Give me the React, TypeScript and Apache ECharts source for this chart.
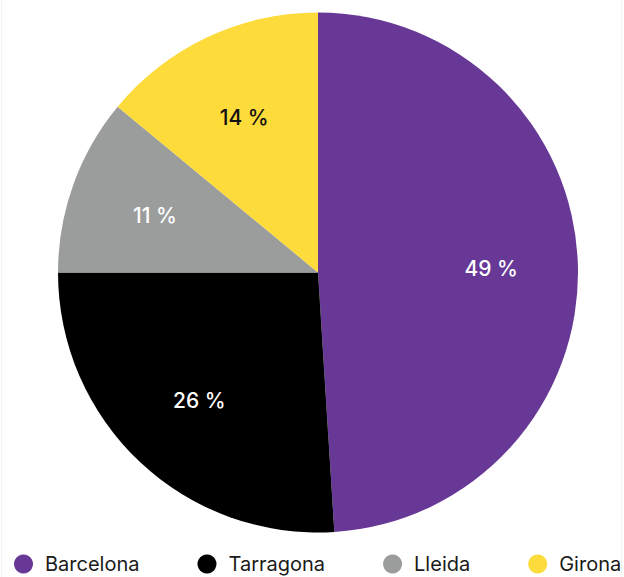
import React, { useEffect, useRef } from "react";
import * as echarts from "echarts";

const categories = ["Barcelona", "Tarragona", "Lleida", "Girona"];
const values = [49, 26, 11, 14];
const colors = ["#673896", "#000000", "#9b9d9c", "#fddb3a"];
const labelColors = ["#ffffff", "#ffffff", "#ffffff", "#111111"];

const FONT = "Inter, 'Noto Sans', sans-serif";

export default function App() {
  const ref = useRef<HTMLDivElement>(null);
  useEffect(() => {
    if (!ref.current) return;
    const chart = echarts.init(ref.current, undefined, { renderer: "svg" });
    const data = categories.map((name, i) => ({
      name,
      value: values[i],
      itemStyle: { color: colors[i] },
      label: { color: labelColors[i] },
    }));
    const cx = 318;
    const cy = 272.5;
    const r = 260;
    chart.setOption({
      animation: false,
      legend: {
        data: categories,
        bottom: 3,
        left: 14,
        padding: 0,
        icon: "circle",
        itemWidth: 19,
        itemHeight: 19,
        itemGap: 58,
        textStyle: { fontFamily: FONT, fontSize: 20, color: "#1a1a1a", padding: [0, 0, 0, 7] },
      },
      series: [
        {
          type: "pie",
          center: [cx, cy],
          radius: [0, r],
          startAngle: 90,
          clockwise: true,
          label: { show: false },
          labelLine: { show: false },
          itemStyle: { borderWidth: 0 },
          emphasis: { disabled: true },
          data,
        },
        {
          type: "pie",
          center: [cx, cy + 1.5],
          radius: [r * 0.31, r],
          startAngle: 90,
          clockwise: true,
          silent: true,
          legendHoverLink: false,
          itemStyle: { color: "transparent", borderWidth: 0 },
          label: {
            show: true,
            position: "inside",
            formatter: "{c} %",
            fontFamily: FONT,
            fontSize: 21,
            fontWeight: 500,
          },
          labelLine: { show: false },
          emphasis: { disabled: true },
          data: categories.map((name, i) => ({
            name: name + "_l",
            value: values[i],
            itemStyle: { color: "transparent" },
            label: { color: labelColors[i] },
          })),
        },
      ],
    });
    return () => chart.dispose();
  }, []);
  return (
    <div
      style={{
        position: "fixed",
        left: 0,
        top: 0,
        width: 624,
        height: 577,
        background: "#fff",
      }}
    >
      <div style={{ position: "absolute", left: 1, top: 0, width: 1, height: 577, background: "#f2f2f2" }} />
      <div style={{ position: "absolute", left: 621, top: 0, width: 1, height: 577, background: "#f2f2f2" }} />
      <div ref={ref} style={{ position: "absolute", left: 0, top: 0, width: 624, height: 577 }} />
    </div>
  );
}
